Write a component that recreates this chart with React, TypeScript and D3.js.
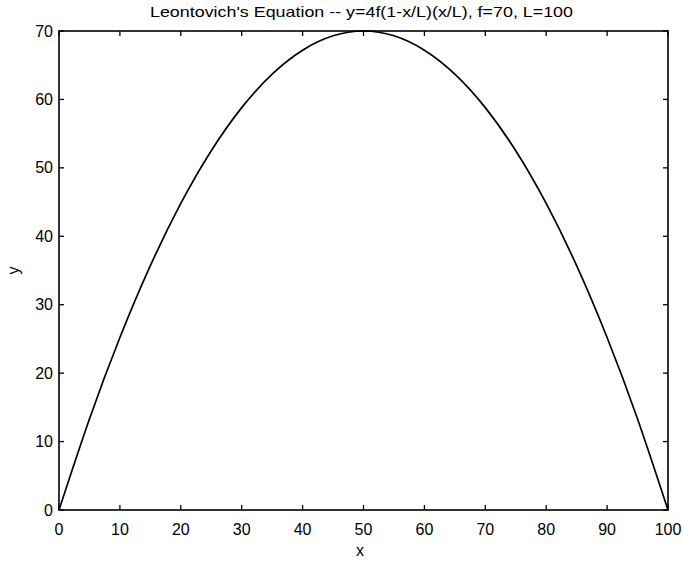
import React from "react";
import * as d3 from "d3";

const xValues = [0, 5, 10, 15, 20, 25, 30, 35, 40, 45, 50, 55, 60, 65, 70, 75, 80, 85, 90, 95, 100];
const yValues = [0, 13.3, 25.2, 35.7, 44.8, 52.5, 58.8, 63.7, 67.2, 69.3, 70, 69.3, 67.2, 63.7, 58.8, 52.5, 44.8, 35.7, 25.2, 13.3, 0];
const xTicks = [0, 10, 20, 30, 40, 50, 60, 70, 80, 90, 100];
const yTicks = [0, 10, 20, 30, 40, 50, 60, 70];
const title = "Leontovich's Equation -- y=4f(1-x/L)(x/L), f=70, L=100";

export default function App() {
  const W = 683, H = 563;
  const left = 59, right = 668, top = 31, bottom = 510;
  const x = d3.scaleLinear().domain([0, 100]).range([left, right]);
  const y = d3.scaleLinear().domain([0, 70]).range([bottom, top]);
  const pts = xValues.map((v, i) => [v, yValues[i]] as [number, number]);
  const line = d3.line<[number, number]>().x(d => x(d[0])).y(d => y(d[1])).curve(d3.curveNatural);
  const font = "'Liberation Sans', Arial, sans-serif";
  const tl = 5;
  const fs = 16;
  return (
    <svg width={W} height={H} style={{ position: "absolute", left: 0, top: 0, background: "#fff" }} fontFamily={font}>
      <rect x={left} y={top} width={right - left} height={bottom - top} fill="none" stroke="#000" strokeWidth={1.6} />
      {xTicks.map(t => (
        <g key={"x" + t}>
          <line x1={x(t)} x2={x(t)} y1={bottom} y2={bottom - tl} stroke="#000" strokeWidth={1.3} />
          <line x1={x(t)} x2={x(t)} y1={top} y2={top + tl} stroke="#000" strokeWidth={1.3} />
          <text x={x(t)} y={bottom + 25} textAnchor="middle" fontSize={fs}>{t}</text>
        </g>
      ))}
      {yTicks.map(t => (
        <g key={"y" + t}>
          <line x1={left} x2={left + tl} y1={y(t)} y2={y(t)} stroke="#000" strokeWidth={1.3} />
          <line x1={right} x2={right - tl} y1={y(t)} y2={y(t)} stroke="#000" strokeWidth={1.3} />
          <text x={left - 6} y={y(t) + 5.5} textAnchor="end" fontSize={fs}>{t}</text>
        </g>
      ))}
      <path d={line(pts) || ""} fill="none" stroke="#000" strokeWidth={1.7} />
      <text x={150} y={17} fontSize={15} textLength={423} lengthAdjust="spacingAndGlyphs">{title}</text>
      <text x={360} y={556} textAnchor="middle" fontSize={fs}>x</text>
      <text x={19} y={(top + bottom) / 2} textAnchor="middle" fontSize={fs} transform={`rotate(-90 19 ${(top + bottom) / 2})`}>y</text>
    </svg>
  );
}
